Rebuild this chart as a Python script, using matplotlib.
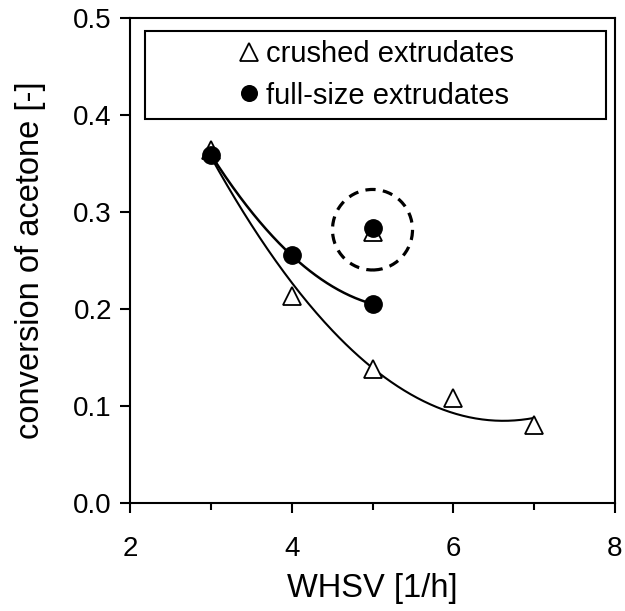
import numpy as np
import matplotlib
matplotlib.use("Agg")
import matplotlib.pyplot as plt
from matplotlib.patches import Ellipse, Rectangle

plt.rcParams['font.family'] = ['Liberation Sans', 'DejaVu Sans']

# crushed extrudates (triangles)
whsv_crushed = [3, 4, 5, 6, 7]
conv_crushed = [0.364, 0.213, 0.138, 0.108, 0.080]
# full-size extrudates (dots)
whsv_full = [3, 4, 5]
conv_full = [0.359, 0.255, 0.205]
# circled repeat point at WHSV 5
whsv_rep = 5
conv_rep_crushed = 0.279
conv_rep_full = 0.283

fig = plt.figure(figsize=(6.25, 6.11), dpi=100)
ax = fig.add_axes([0.208, 0.177, 0.776, 0.794])

# quadratic trend lines (like excel)
pc = np.polyfit(whsv_crushed, conv_crushed, 2)
xc = np.linspace(3, 7, 200)
ax.plot(xc, np.polyval(pc, xc), color='black', lw=1.5, zorder=2)
pf = np.polyfit(whsv_full, conv_full, 2)
xf = np.linspace(3, 5, 200)
ax.plot(xf, np.polyval(pf, xf), color='black', lw=1.8, zorder=2)

ax.plot(whsv_crushed + [whsv_rep], conv_crushed + [conv_rep_crushed], '^', ms=13,
        mfc='white', mec='black', mew=1.3, ls='none', zorder=3,
        label='crushed extrudates')
ax.plot(whsv_full + [whsv_rep], conv_full + [conv_rep_full], 'o', ms=12.5,
        mfc='black', mec='black', ls='none', zorder=4,
        label='full-size extrudates')

# dashed circle around the repeat point
circ = Ellipse((whsv_rep, 0.2815), width=0.99, height=0.083, fill=False,
               ec='black', lw=2.3, ls=(0, (3.2, 2.3)), zorder=3)
ax.add_patch(circ)

ax.set_xlim(2, 8)
ax.set_ylim(0, 0.5)
ax.set_xticks([2, 4, 6, 8])
ax.set_xticks([3, 5, 7], minor=True)
ax.set_yticks(np.arange(0, 0.51, 0.1))
ax.yaxis.set_major_formatter(matplotlib.ticker.FormatStrFormatter('%.1f'))
ax.tick_params(axis='both', which='major', direction='out', length=7, width=1.5,
               labelsize=20, pad=6)
ax.tick_params(axis='x', which='minor', direction='out', length=5, width=1.5)
ax.tick_params(axis='x', pad=17)
for s in ax.spines.values():
    s.set_linewidth(1.5)

ax.set_xlabel('WHSV [1/h]', fontsize=23.5, labelpad=8)
ax.set_ylabel('conversion of acetone [-]', fontsize=23.5, labelpad=20)

# legend with a box spanning most of the axes
ax.add_patch(Rectangle((0.031, 0.792), 0.95, 0.181, transform=ax.transAxes,
                       fill=False, ec='black', lw=1.5, zorder=5))
leg = ax.legend(loc='center', bbox_to_anchor=(0.51, 0.882), frameon=False,
                fontsize=21, handlelength=0.6, handletextpad=0.3,
                labelspacing=0.45, borderpad=0, markerscale=0.9)
leg.legend_handles[0].set_markersize(13)

fig.savefig('out.png', dpi=100)
